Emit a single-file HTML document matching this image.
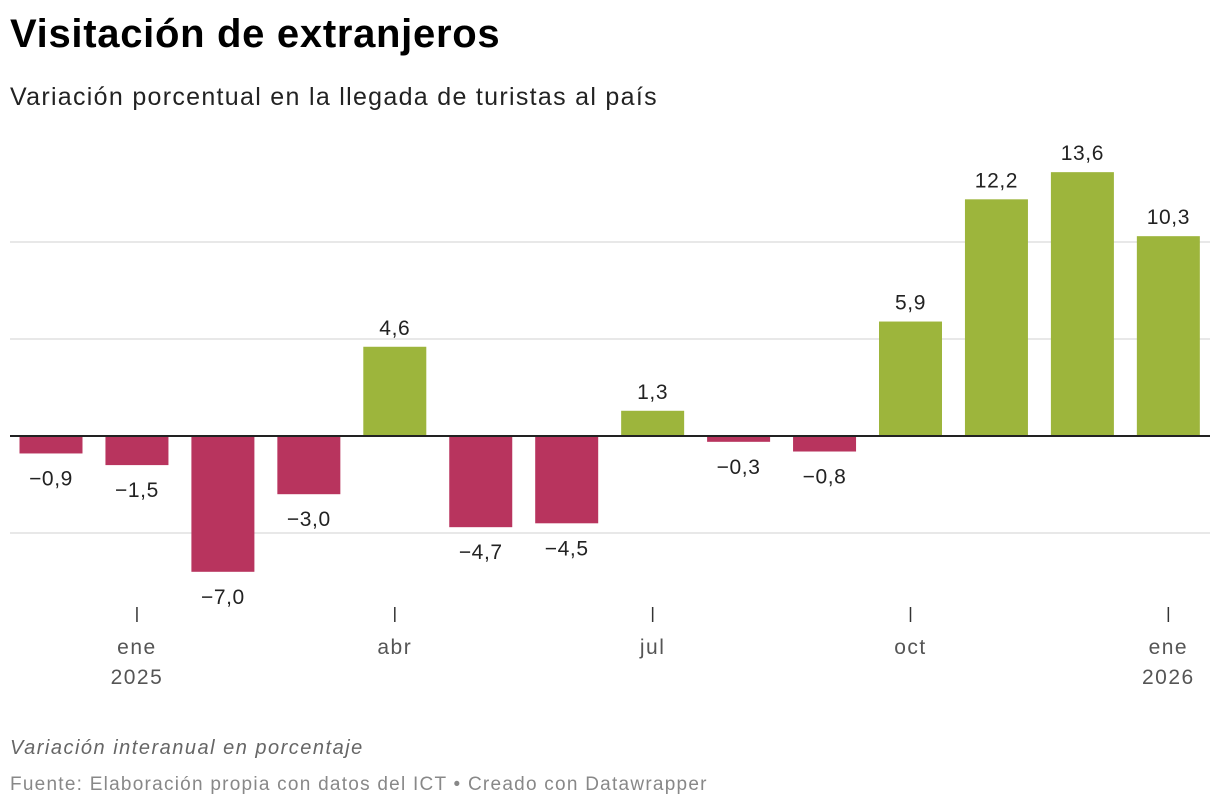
<!DOCTYPE html>
<html><head><meta charset="utf-8">
<style>
body{margin:0;background:#fff;width:1220px;height:810px;overflow:hidden;font-family:"Liberation Sans",sans-serif;}
#title{position:absolute;left:10px;top:12px;font-size:40px;font-weight:bold;color:#000;letter-spacing:0.7px}
#sub{position:absolute;left:10px;top:83px;font-size:25px;color:#222;letter-spacing:1.3px}
#note{position:absolute;left:10px;top:737px;font-size:20px;font-style:italic;color:#666;letter-spacing:1.5px}
#src{position:absolute;left:10px;top:774px;font-size:19px;color:#888;letter-spacing:1.25px}
svg{position:absolute;left:0;top:0}
</style></head><body>
<div id="title">Visitación de extranjeros</div>
<div id="sub">Variación porcentual en la llegada de turistas al país</div>
<svg id="chart" width="1220" height="720"></svg>
<div id="note">Variación interanual en porcentaje</div>
<div id="src">Fuente: Elaboración propia con datos del ICT • Creado con Datawrapper</div>
<script>
const months=["dic","ene","feb","mar","abr","may","jun","jul","ago","sep","oct","nov","dic","ene"];
const values=[-0.9,-1.5,-7.0,-3.0,4.6,-4.7,-4.5,1.3,-0.3,-0.8,5.9,12.2,13.6,10.3];
const gridValues=[-5,5,10];
const tickIdx=[1,4,7,10,13];
const tickLabels=["ene","abr","jul","oct","ene"];
const tickYears=["2025","","","","2026"];
const NS="http://www.w3.org/2000/svg";
const svg=document.getElementById('chart');
const y0=436, ppu=19.4;
const y=v=>y0-v*ppu;
const x=i=>51+i*85.95;
const bw=63;
function mk(t,a){const e=document.createElementNS(NS,t);for(const k in a)e.setAttribute(k,a[k]);svg.appendChild(e);return e;}
gridValues.forEach(g=>{
 const l=mk('line',{x1:10,x2:1210,y1:y(g),y2:y(g),stroke:'#e0e0e0','stroke-width':1.5});
 
 
});
values.forEach((v,i)=>{
 const top=Math.min(y(v),y0),h=Math.abs(y(v)-y0);
 const r=mk('rect',{x:x(i)-bw/2,y:top,width:bw,height:h,fill:v>=0?'#9db53c':'#b8345e'});
 
 
 const ly=v>=0?y(v)-12:y(v)+32;
 const t=mk('text',{x:x(i),y:ly,'text-anchor':'middle','font-size':21,fill:'#222','letter-spacing':0.6});
 t.textContent=(v<0?'−':'')+Math.abs(v).toFixed(1).replace('.',',');
 
 
});
const z=mk('line',{x1:10,x2:1210,y1:y0,y2:y0,stroke:'#222','stroke-width':2});


tickIdx.forEach((ti,k)=>{
 const tk=mk('line',{x1:x(ti),x2:x(ti),y1:607,y2:622,stroke:'#333','stroke-width':1.5});
 
 
 const t=mk('text',{x:x(ti),y:654,'text-anchor':'middle','font-size':21,fill:'#555','letter-spacing':1.5});
 t.textContent=tickLabels[k];
 
 
 if(tickYears[k]){
  const t2=mk('text',{x:x(ti),y:684,'text-anchor':'middle','font-size':21,fill:'#555','letter-spacing':1.5});
  t2.textContent=tickYears[k];
  
  
 }
});
</script>
</body></html>
